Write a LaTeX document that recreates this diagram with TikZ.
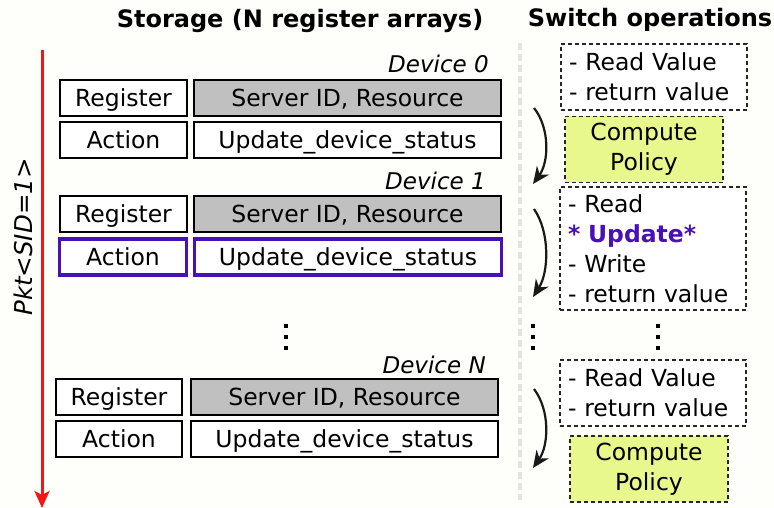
\documentclass[tikz,border=0pt]{standalone}
\usepackage{fontspec}
\setmainfont{DejaVu Sans}
\usetikzlibrary{arrows.meta}
\definecolor{bg}{HTML}{FEFEFB}
\definecolor{cellgray}{HTML}{C0C0C0}
\definecolor{hipurple}{HTML}{4A10B8}
\definecolor{policy}{HTML}{E8F88C}
\definecolor{sepgray}{HTML}{E2E2E2}
\definecolor{pktred}{HTML}{F51515}
\begin{document}
\begin{tikzpicture}[x=1pt,y=-1pt,
  txt/.style={font=\fontsize{23.5}{30}\selectfont},
  cell/.style={draw=black, line width=2pt, fill=white, inner sep=0pt, txt, text height=17pt, text depth=0pt},
  graycell/.style={cell, fill=cellgray},
  hicell/.style={cell, draw=hipurple, line width=3.5pt},
  opbox/.style={draw=black!85, line width=1.4pt, dash pattern=on 4pt off 3pt, fill=white, txt,
    text width=170pt, align=left, inner xsep=8pt, inner ysep=0pt},
  polbox/.style={draw=black!85, line width=1.4pt, dash pattern=on 4pt off 3pt, fill=policy, txt,
    align=center, inner sep=0pt, minimum width=158pt, minimum height=66pt},
  devlabel/.style={font=\fontsize{23}{26}\selectfont\itshape, anchor=east, inner sep=0pt},
  title/.style={font=\fontsize{24}{26}\selectfont\bfseries, inner sep=0pt},
  flow/.style={line width=2.2pt, black!90, -{Stealth[length=17pt,width=15pt]}},
  dotm/.style={fill=black, inner sep=0pt, minimum size=4.5pt}
]
\fill[bg] (0,0) rectangle (774,508);
\useasboundingbox (0,0) rectangle (774,508);

% titles
\node[title] (t1) at (300,21) {Storage (N register arrays)};
\node[title] (t2) at (650,20) {Switch operations};

% separator
\coordinate (s1) at (520,43);
\coordinate (s2) at (520,500);
\draw[sepgray, line width=3.5pt, dash pattern=on 7pt off 4pt] (s1) -- (s2);

% red packet arrow
\coordinate (p1) at (42,50);
\coordinate (p2) at (42,508);
\draw[pktred, line width=3pt, -{Stealth[length=17pt,width=15pt,inset=4pt]}] (p1) -- (p2);
\node[font=\fontsize{24.5}{26}\selectfont\itshape, rotate=90, inner sep=0pt] (pkt) at (23,237) {Pkt<SID=1>};

% Device 0
\node[devlabel] (d0) at (489,64) {Device 0};
\node[cell, minimum width=127pt, minimum height=36pt] (r0) at (123.5,98) {Register};
\node[graycell, minimum width=307pt, minimum height=36pt] (v0) at (347.5,98) {Server ID, Resource};
\node[cell, minimum width=127pt, minimum height=36pt] (a0) at (123.5,140) {Action};
\node[cell, minimum width=307pt, minimum height=36pt] (u0) at (347.5,140) {Update\_device\_status};

% Device 1
\node[devlabel] (d1) at (486,181) {Device 1};
\node[cell, minimum width=127pt, minimum height=36pt] (r1) at (123.5,214) {Register};
\node[graycell, minimum width=307pt, minimum height=36pt] (v1) at (347.5,214) {Server ID, Resource};
\node[hicell, minimum width=127pt, minimum height=36pt] (a1) at (123,257) {Action};
\node[hicell, minimum width=307pt, minimum height=36pt] (u1) at (348,257) {Update\_device\_status};

% dots
\node[dotm] (m1) at (286,326) {};
\node[dotm] (m2) at (286,337) {};
\node[dotm] (m3) at (286,348) {};

% Device N
\node[devlabel] (dn) at (486,365) {Device N};
\node[cell, minimum width=126pt, minimum height=36pt] (rn) at (119,397) {Register};
\node[graycell, minimum width=307pt, minimum height=36pt] (vn) at (344.5,397) {Server ID, Resource};
\node[cell, minimum width=126pt, minimum height=36pt] (an) at (119,439) {Action};
\node[cell, minimum width=307pt, minimum height=36pt] (un) at (344.5,439) {Update\_device\_status};

% switch operations
\node[opbox, minimum height=66pt] (o1) at (654,77) {- Read Value\\- return value};
\node[polbox] (c1) at (644,149.5) {Compute\\Policy};
\node[opbox, minimum height=123pt] (o2) at (653,248.5) {- Read\\{\bfseries\color{hipurple}* Update*}\\- Write\\- return value};
\node[dotm] (n1) at (533,326) {};
\node[dotm] (n2) at (533,337) {};
\node[dotm] (n3) at (533,348) {};
\node[dotm] (k1) at (658,326) {};
\node[dotm] (k2) at (658,337) {};
\node[dotm] (k3) at (658,348) {};
\node[opbox, minimum height=66pt] (o3) at (653,393) {- Read Value\\- return value};
\node[polbox] (c2) at (649,469) {Compute\\Policy};

% flow arrows
\coordinate (f1s) at (534,108);
\coordinate (f1e) at (533,184);
\draw[flow] (f1s) .. controls (550,128) and (549,162) .. (f1e);
\coordinate (f2s) at (534,209);
\coordinate (f2e) at (533,297);
\draw[flow] (f2s) .. controls (550,232) and (549,272) .. (f2e);
\coordinate (f3s) at (534,389);
\coordinate (f3e) at (533,468);
\draw[flow] (f3s) .. controls (550,410) and (549,445) .. (f3e);
\end{tikzpicture}
\end{document}
